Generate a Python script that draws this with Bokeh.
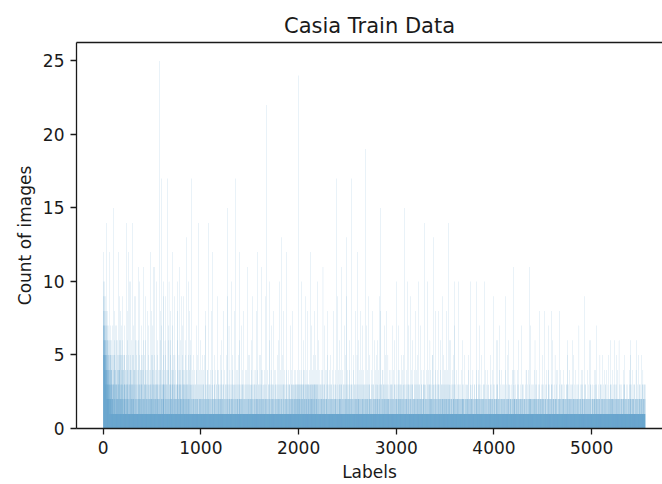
from bokeh.plotting import figure
from bokeh.models import Range1d, LinearAxis, FixedTicker, ColumnDataSource
from bokeh.embed import file_html
from bokeh.resources import INLINE

TITLE = "Casia Train Data"
X_LABEL = "Labels"
Y_LABEL = "Count of images"
x_ticks = [0, 1000, 2000, 3000, 4000, 5000]
y_ticks = [0, 5, 10, 15, 20, 25]

# Images per label, one base-36 digit per label (a=10 ... p=25),
# 100 labels per row, written in groups of ten.
count_rows = [
    "7a58695c76 5967a58475 6485739564 e574638452 4637254836 3526473524 4253c36241 3625142735 2514363142 4231527132",
    "231412315f 3148613251 2513142731 1426317213 3152412163 21413c4215 1326149521 4132516132 8214131521 2375142613",
    "9213141251 1421375213 3125121413 21413e2151 1312482613 21314121c1 3121514a13 1213125141 a131421213 2146312513",
    "e121314121 3125721413 1412191621 9131214121 2131516121 1214131261 312141b213 1213a51214 2131412131 1512137412",
    "213141512b 1216121413 3121512131 1413129612 2131214131 8121314121 1312157213 2141213121 c213121413 1215138212",
    "2137412151 12131214b1 3121512b31 1412131213 2131214a31 1213156212 3121412131 121314p121 2131216181 1412171213",
    "h213141213 1213129513 2a31412131 1316151213 9121314121 21312141h1 1312612171 2141a13121 1213156213 8131214121",
    "2131274131 12c1312151 3121412131 1213951212 2141312131 1312121683 a121314121 2131215b31 1412131213 2131462121",
    "9121312141 1312157213 2141293121 1213141312 3121516131 d213121413 1312141215 213121a121 8121413121 1312161513",
    "1211h21131 2113121141 1211352112 3112114121 1213112131 2111412172 1312112151 21e1121311 1121311214 2113126121",
    "1211312141 2113152121 1121411312 3112121151 1211273112 8112131211 2113112141 1241312112 1e21121311 2113111412",
    "1312118121 2111312114 c211312111 1121251312 3112141121 1211213112 2113119121 1211412113 2113142121 1121311215",
    "2113121141 1211362112 3112112131 8121131211 1211412113 2113112151 1121311219 21f1131211 1211213172 3112121141",
    "1211312112 a113121121 2112145131 1131211213 2111318112 1211h21131 3112112141 1211342112 2113121151 1126311212",
    "c112131211 2113172121 1211412113 3112121131 8121131211 1211314112 2113112141 1211b21131 2113125121 1121311215",
    "2111312112 1213162141 3112121131 9121131211 1211412113 2113112141 1121318212 3112141121 c211213112 1211312151",
    "2113125121 1211312114 b112131211 1211243112 3112121141 1211312112 2113192121 121m131211 2111412113 1213112161",
    "121131a211 2113112141 1211372112 3112121131 8121131211 1211412113 2113114121 1121311212 3112151121 1211263112",
    "1a11312112 2113121141 12d1131211 2111315112 1213118121 3112141131 1211213112 2113142121 c121131211 1211312114",
    "2113121321 1312117121 2114121312 1312131211 8123112131 2113214121 1312121313 2141213121 1312131412 213121312o",
    "1312141213 2131213121 1213141312 a121312131 2131213141 1312161212 2141312131 1913121312 2131214131 1312181213",
    "2131213121 1312141312 c131213121 1213127314 3121312131 1312151213 8131213121 1213151312 2131412131 1312131a12",
    "2113161121 1211312114 3112121131 1211243112 2113112141 b211312112 1213117121 3112141121 1211213142 2113121151",
    "8121131211 1211412113 2113152121 1121311212 3112121141 1211318112 2113112121 1211243112 21131h1121 1121191121",
    "2113121141 1211312162 3112121131 1241213112 b113112121 1211412113 2113117121 1121311215 3112121121 9121d31211",
    "1211342112 2113121141 1211263112 3112112131 12113h2112 2113112151 1211412113 2113121121 1121381212 3112121151",
    "c211312112 1213162121 2113121141 8121131211 1211314112 2713112121 1121411312 3112121131 12112131j1 2113172121",
    "1211312114 2191121131 1211253112 3112121121 1211412113 2113118121 1121311212 3112161121 1211213142 2113121151",
    "1211362112 2113121141 1211291121 31121f1131 1281121131 2113142121 1211412113 2113127121 1121311215 3112121121",
    "8211312112 1213152121 2113121141 1211213112 3112114131 1211312171 2113112121 1211412113 2113161121 112131121a",
    "2112131211 1311212141 2113172121 1211342112 3112121131 5211213112 1211412113 2113115121 1f21131211 2111312112",
    "1213142121 21131211a1 1211121371 3112121131 1211191312 2113112141 1211316112 3112121121 1211243112 2118112131",
    "1211412113 2113152121 1121311212 1a12121131 3112172121 1211312114 2113121121 1211243112 31121e1131 1211312112",
    "2113121141 121121a112 3112112131 1211412113 2113162121 1121341212 3112121151 1211253112 1d13121121 1211312181",
    "2113142121 1211312114 3112121131 1211283112 2113112121 6211412113 1121311212 2113129121 1211213152 3112121141",
    "1211342112 2113812121 1211412113 2113112e21 1121311262 3112161121 1211213112 2113112141 1211312152 217121311a",
    "1211312121 2112241211 1121311221 1221121131 a211131221 2113112121 1121211412 1211362112 2121211312 1221151121",
    "2111312112 1211221131 1121311212 3121251121 1211412112 2111211312 112a131212 1211221121 2113141211 1121211231",
    "1211312112 21112112a1 1121342121 1221121141 3112211211 1211372121 2111211312 1121152121 1211221131 2113112211",
    "a121131211 1211241121 2112311211 1121211413 1211312121 2121211121 1131215212 3112211121 1211412121 2111211391",
    "1211312112 2112211211 1121362121 1216121131 3111221211 1211412121 7111211312 1121241121 1212121131 2113111212",
    "1121312211 2112211141 1911312121 1211251121 2111312211 6121211131 1211312112 2121211211 1131211412 1211241121",
    "121b131212 2112241121 1121312211 1211221141 3121211211 1211362112 2111211312 1121221121 7211121131 2113121211",
    "1211312121 2112211211 1121312141 1221141121 3111211212 1211412112 211121b312 1121272121 1211122131 2113111221",
    "1121312211 2121241121 6211312112 1211221141 3112211211 1211312121 2118211312 1121211221 1211121231 2113152211",
    "1211312112 2121211811 1121312121 1221121141 3111221211 1211342121 7111211312 1121221121 1211181132 2113161211",
    "1121311212 2112211121 1211352121 1211221141 3121211211 1211412112 2111211312 8121211121 1211241131 2113112211",
    "1211312121 2112241211 1121312121 1221121131 3111211215 1211362112 2111211312 1121411221 1211221131 2113112211",
    "6121311211 2112251121 1211312121 1221121141 3111221211 1211312112 2111211312 7121211121 1212121131 2113141211",
    "1211342121 2121211211 1121319121 1211221131 3112211211 1211412121 2111211312 1121261121 1211121231 6113111211",
    "1211312112 2112211211 1121342121 1221121141 3111211221 1271312121 2111211312 1121212121 1211251131 2113112211",
    "1121312211 2112511121 1211312121 1221141131 3112211211 1211412112 2111211312 1121251121 1211221131 2113161212",
    "1211312121 2121241211 1121312121 1216121131 3111221211 1211352112 2111211412 1121221121 6211121131 2113121211",
    "1121312211 2112211121 1211342121 1211121135 3112211211 1211312112 2111211312 1121212121 1211142131 2113162211",
    "5211312111 2112241211 1121312121 1221121131 3111221211 1211412112 6111211312 1121251121 1211122131 2113121211",
    "1211312511 2112211311 1121342121 1312121131 3121211213",
]

counts = [int(ch, 36) for row in count_rows for ch in row.replace(" ", "")]
labels = list(range(len(counts)))
source = ColumnDataSource(dict(label=labels, count=counts))

FONT = "DejaVu Sans"
INK = "#1a1a1a"

p = figure(
    width=662, height=484,
    output_backend="svg", toolbar_location=None,
    x_range=Range1d(-273, 5725), y_range=Range1d(0, 26.25),
    min_border_left=76, min_border_right=0,
    min_border_top=42, min_border_bottom=55,
    background_fill_color="white", border_fill_color="white",
)
p.outline_line_color = None
p.grid.visible = False

p.vbar(x="label", top="count", bottom=0, width=1.0, source=source,
       fill_color="#1f77b4", line_color=None)

# title
p.title.text = TITLE
p.title.align = "center"
p.title.text_font = FONT
p.title.text_font_size = "21px"
p.title.text_font_style = "normal"
p.title.text_color = INK

bottom_axis = p.below[0]
left_axis = p.left[0]

for ax, ticks, label in ((bottom_axis, x_ticks, X_LABEL), (left_axis, y_ticks, Y_LABEL)):
    ax.ticker = FixedTicker(ticks=ticks)
    ax.axis_label = label
    ax.axis_label_text_font = FONT
    ax.axis_label_text_font_size = "17px"
    ax.axis_label_text_font_style = "normal"
    ax.axis_label_text_color = INK
    ax.axis_label_standoff = 5
    ax.major_label_text_font = FONT
    ax.major_label_text_font_size = "17px"
    ax.major_label_text_color = INK
    ax.major_label_standoff = 6
    ax.axis_line_color = INK
    ax.axis_line_width = 1.3
    ax.major_tick_line_color = INK
    ax.major_tick_line_width = 1.3
    ax.major_tick_out = 6
    ax.major_tick_in = 0
    ax.minor_tick_out = 0
    ax.minor_tick_in = 0

# top spine without ticks
top_spine = LinearAxis(
    ticker=FixedTicker(ticks=[]),
    major_tick_out=0, major_tick_in=0, minor_tick_out=0, minor_tick_in=0,
    major_label_text_font_size="0px", major_label_standoff=0,
    axis_line_color=INK, axis_line_width=1.3,
)
p.add_layout(top_spine, "above")

open("out.html", "w").write(file_html(p, INLINE))
